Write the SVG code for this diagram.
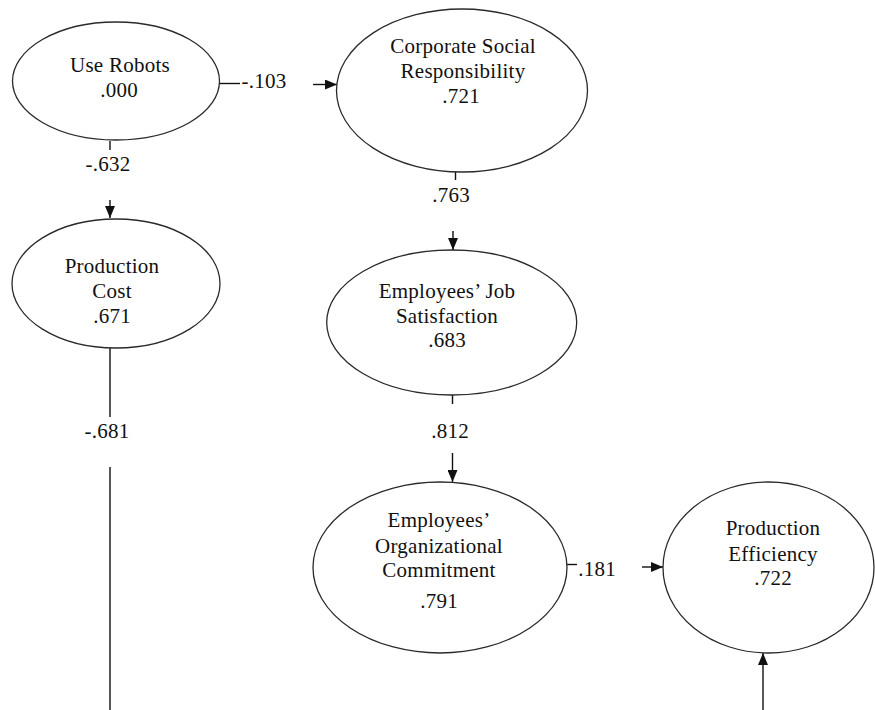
<svg xmlns="http://www.w3.org/2000/svg" width="875" height="710" viewBox="0 0 875 710">
  <style>
    .node ellipse { fill: #ffffff; stroke: #2a2a2a; stroke-width: 1.3; }
    .label { font-family: 'Liberation Serif', 'Times New Roman', serif; font-size: 21px; letter-spacing: 0.25px; fill: #111111; text-anchor: middle; }
    .edge line { stroke: #111111; stroke-width: 1.4; fill: none; }
  </style>
  <defs>
    <marker id="arrow" markerUnits="userSpaceOnUse" markerWidth="12" markerHeight="10" refX="12" refY="5" orient="auto">
      <path d="M0,0 L12,5 L0,10 z" fill="#111111"/>
    </marker>
  </defs>
  <rect width="875" height="710" fill="#ffffff"/>

  <!-- connectors: short stub from the source, coefficient, then arrow into the target -->
  <g id="connectors" class="edge">
    <!-- Use Robots -> Corporate Social Responsibility -->
    <line x1="219" y1="83.5" x2="240" y2="83.5"/>
    <line x1="313" y1="84.5" x2="337" y2="84.5" marker-end="url(#arrow)"/>
    <text class="label" x="264" y="88">-.103</text>

    <!-- Use Robots -> Production Cost -->
    <line x1="110" y1="141" x2="110" y2="150"/>
    <line x1="110" y1="200" x2="110" y2="218" marker-end="url(#arrow)"/>
    <text class="label" x="108" y="171">-.632</text>

    <!-- Corporate Social Responsibility -> Employees' Job Satisfaction -->
    <line x1="455.5" y1="172" x2="455.5" y2="180"/>
    <line x1="453" y1="231" x2="453" y2="250" marker-end="url(#arrow)"/>
    <text class="label" x="451" y="202">.763</text>

    <!-- Employees' Job Satisfaction -> Employees' Organizational Commitment -->
    <line x1="452.5" y1="395" x2="452.5" y2="404"/>
    <line x1="452.5" y1="453" x2="452.5" y2="482" marker-end="url(#arrow)"/>
    <text class="label" x="450" y="438">.812</text>

    <!-- Employees' Organizational Commitment -> Production Efficiency -->
    <line x1="566" y1="564.5" x2="577" y2="564.5"/>
    <line x1="642" y1="567" x2="663" y2="567" marker-end="url(#arrow)"/>
    <text class="label" x="597" y="576">.181</text>

    <!-- Production Cost -> Production Efficiency (runs off the bottom edge) -->
    <line x1="110" y1="348" x2="110" y2="417"/>
    <line x1="110" y1="467" x2="110" y2="710"/>
    <text class="label" x="107" y="438">-.681</text>
    <line x1="763" y1="710" x2="763" y2="653" marker-end="url(#arrow)"/>
  </g>

  <g id="use-robots" class="node">
    <ellipse cx="116" cy="81" rx="103.5" ry="59"/>
    <text class="label" x="120" y="72">Use Robots</text>
    <text class="label" x="119" y="97">.000</text>
  </g>

  <g id="production-cost" class="node">
    <ellipse cx="116" cy="283.5" rx="104" ry="64.5"/>
    <text class="label" x="112" y="273">Production</text>
    <text class="label" x="112" y="298">Cost</text>
    <text class="label" x="112" y="323">.671</text>
  </g>

  <g id="corporate-social-responsibility" class="node">
    <ellipse cx="462" cy="90.5" rx="125.5" ry="81.5"/>
    <text class="label" x="463" y="53">Corporate Social</text>
    <text class="label" x="463" y="78">Responsibility</text>
    <text class="label" x="461" y="103">.721</text>
  </g>

  <g id="job-satisfaction" class="node">
    <ellipse cx="451.7" cy="322.5" rx="125" ry="72.5"/>
    <text class="label" x="447" y="298">Employees’ Job</text>
    <text class="label" x="447" y="323">Satisfaction</text>
    <text class="label" x="447" y="347">.683</text>
  </g>

  <g id="organizational-commitment" class="node">
    <ellipse cx="440" cy="567.5" rx="127" ry="85.5"/>
    <text class="label" x="439" y="527">Employees’</text>
    <text class="label" x="439" y="553">Organizational</text>
    <text class="label" x="439" y="577">Commitment</text>
    <text class="label" x="439" y="608">.791</text>
  </g>

  <g id="production-efficiency" class="node">
    <ellipse cx="768.5" cy="567.5" rx="105.5" ry="85.5"/>
    <text class="label" x="773" y="535">Production</text>
    <text class="label" x="773" y="561">Efficiency</text>
    <text class="label" x="773" y="585">.722</text>
  </g>
</svg>
